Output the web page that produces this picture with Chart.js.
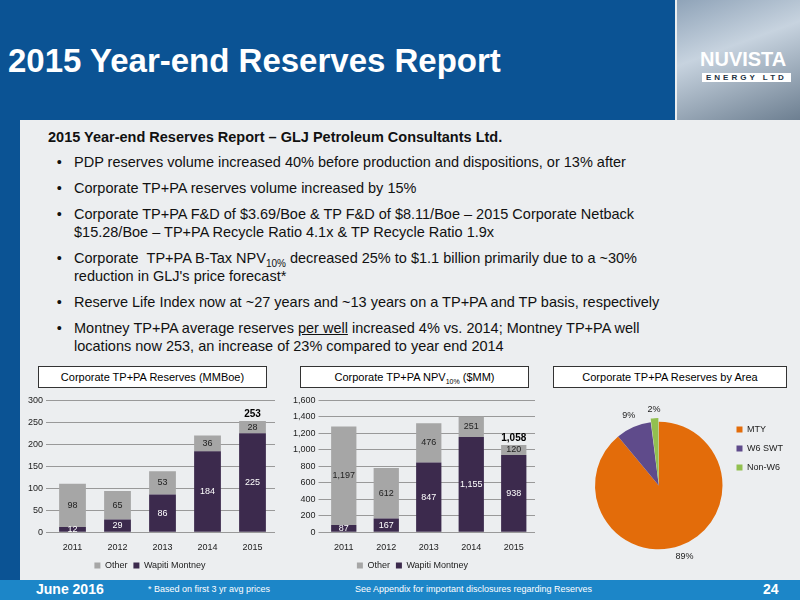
<!DOCTYPE html>
<html><head><meta charset="utf-8">
<script src="https://cdn.jsdelivr.net/npm/chart.js@4"></script>
<style>
body{margin:0;width:800px;height:600px;overflow:hidden;font-family:"Liberation Sans",Arial,sans-serif;background:#eceef0;position:relative}
#hdr{position:absolute;left:0;top:0;width:675px;height:120px;background:#0b5394}
#hdr h1{position:absolute;left:8px;top:42px;margin:0;color:#fff;font-size:33px;font-weight:bold}
#img{position:absolute;left:677px;top:0;width:123px;height:120px;background:linear-gradient(160deg,#8fa3b8,#c7d3df 40%,#6d7f91)}
#logo{position:absolute;left:700px;top:48px;color:#fff;font-size:20px;font-weight:bold}
#logo2{position:absolute;left:702px;top:73px;background:#fff;color:#234;font-size:8px;letter-spacing:3px;padding:0 4px;font-weight:bold}
#side{position:absolute;left:0;top:120px;width:20px;height:460px;background:#0b5394}
#body{position:absolute;left:48px;top:128px;width:650px;color:#111;font-size:14.5px;line-height:18px}
#body b{display:block;margin-bottom:7px}
#body ul{margin:0;padding-left:26px}
#body li{margin-bottom:8px}
.sb{font-size:10px;position:relative;top:4px;line-height:0}
.ct{position:absolute;top:366px;height:20px;border:1px solid #333;background:#fff;font-size:11px;text-align:center;line-height:20px}
canvas{position:absolute}
#foot{position:absolute;left:0;top:580px;width:800px;height:20px;background:#1c86c8;color:#fff}
</style></head><body>
<div id="hdr"><h1>2015 Year-end Reserves Report</h1></div>
<div id="img"></div><div id="logo">NUVISTA</div><div id="logo2">ENERGY LTD</div>
<div id="side"></div>
<div id="body"><b>2015 Year-end Reserves Report – GLJ Petroleum Consultants Ltd.</b>
<ul style="list-style:'•   '">
<li>PDP reserves volume increased 40% before production and dispositions, or 13% after</li>
<li>Corporate TP+PA reserves volume increased by 15%</li>
<li>Corporate TP+PA F&amp;D of $3.69/Boe &amp; TP F&amp;D of $8.11/Boe – 2015 Corporate Netback $15.28/Boe – TP+PA Recycle Ratio 4.1x &amp; TP Recycle Ratio 1.9x</li>
<li>Corporate &nbsp;TP+PA B-Tax NPV<span class="sb">10%</span> decreased 25% to $1.1 billion primarily due to a ~30% reduction in GLJ's price forecast*</li>
<li>Reserve Life Index now at ~27 years and ~13 years on a TP+PA and TP basis, respectively</li>
<li>Montney TP+PA average reserves <u>per well</u> increased 4% vs. 2014; Montney TP+PA well locations now 253, an increase of 23% compared to year end 2014</li>
</ul></div>
<div class="ct" style="left:38px;width:227px">Corporate TP+PA Reserves (MMBoe)</div>
<div class="ct" style="left:300px;width:227px">Corporate TP+PA NPV<span style="font-size:7px;position:relative;top:3px">10%</span> ($MM)</div>
<div class="ct" style="left:553px;width:232px">Corporate TP+PA Reserves by Area</div>
<canvas id="c1" style="left:25px;top:392px" width="250" height="188"></canvas>
<canvas id="c2" style="left:290px;top:392px" width="245" height="188"></canvas>
<canvas id="c3" style="left:553px;top:393px" width="240" height="185"></canvas>
<div id="foot"><span style="position:absolute;left:36px;top:1px;font-size:14px;font-weight:bold">June 2016</span>
<span style="position:absolute;left:148px;top:4px;font-size:9px">* Based on first 3 yr avg prices</span>
<span style="position:absolute;left:355px;top:4px;font-size:9px">See Appendix for important disclosures regarding Reserves</span>
<span style="position:absolute;left:763px;top:1px;font-size:14px;font-weight:bold">24</span></div>
<script>
const years = ["2011", "2012", "2013", "2014", "2015"];
const resOther = [98, 65, 53, 36, 28];
const resWapiti = [12, 29, 86, 184, 225];
const resTotals = [null, null, null, null, 253];
const npvOther = [1197, 612, 476, 251, 120];
const npvWapiti = [87, 167, 847, 1155, 938];
const npvTotals = [null, null, null, null, 1058];
const areas = ["MTY", "W6 SWT", "Non-W6"];
const areaPct = [89, 9, 2];

const fmt = v => v.toLocaleString("en-US");

const barLabels = {
  id: "barLabels",
  afterDatasetsDraw(chart, args, opts) {
    const ctx = chart.ctx;
    ctx.save();
    ctx.font = "9px Liberation Sans";
    ctx.textAlign = "center";
    ctx.textBaseline = "middle";
    chart.data.datasets.forEach((ds, di) => {
      chart.getDatasetMeta(di).data.forEach((bar, i) => {
        const y = (bar.y + bar.base) / 2;
        ctx.fillStyle = di === 1 ? "#222" : "#fff";
        ctx.fillText(fmt(ds.data[i]), bar.x, y);
      });
    });
    const top = chart.getDatasetMeta(1).data;
    ctx.font = "bold 10px Liberation Sans";
    ctx.fillStyle = "#000";
    opts.totals.forEach((t, i) => {
      if (t != null) ctx.fillText(fmt(t), top[i].x, top[i].y - 7);
    });
    ctx.restore();
  }
};

function barChart(id, wap, oth, totals, max, step) {
  new Chart(document.getElementById(id), {
    type: "bar",
    data: {
      labels: years,
      datasets: [
        { label: "Wapiti Montney", data: wap, backgroundColor: "#3c2a4d" },
        { label: "Other", data: oth, backgroundColor: "#a6a6a6" }
      ]
    },
    plugins: [barLabels],
    options: {
      responsive: false,
      animation: false,
      layout: { padding: { top: 4, bottom: 0 } },
      plugins: {
        barLabels: { totals },
        tooltip: { enabled: false },
        legend: {
          position: "bottom",
          reverse: true,
          labels: { boxWidth: 6, boxHeight: 6, font: { size: 9 }, color: "#222", padding: 6 }
        }
      },
      scales: {
        x: { stacked: true, grid: { display: false }, ticks: { font: { size: 9 }, color: "#222", padding: 2 },
             border: { color: "#999" } },
        y: { stacked: true, min: 0, max: max,
             ticks: { stepSize: step, font: { size: 9 }, color: "#222", callback: v => fmt(v) },
             grid: { color: "#999", drawTicks: true, tickLength: 4 }, border: { display: false } }
      },
      datasets: { bar: { categoryPercentage: 0.85, barPercentage: 0.7 } }
    }
  });
}
barChart("c1", resWapiti, resOther, resTotals, 300, 50);
barChart("c2", npvWapiti, npvOther, npvTotals, 1600, 200);

const pieLabels = {
  id: "pieLabels",
  afterDatasetsDraw(chart) {
    const ctx = chart.ctx;
    ctx.save();
    ctx.font = "9px Liberation Sans";
    ctx.fillStyle = "#222";
    ctx.textAlign = "center";
    ctx.textBaseline = "middle";
    chart.getDatasetMeta(0).data.forEach((arc, i) => {
      const a = (arc.startAngle + arc.endAngle) / 2;
      const r = arc.outerRadius + 12;
      ctx.fillText(areaPct[i] + "%", arc.x + Math.cos(a) * r, arc.y + Math.sin(a) * r);
    });
    ctx.restore();
  }
};

new Chart(document.getElementById("c3"), {
  type: "pie",
  data: {
    labels: areas,
    datasets: [{
      data: areaPct,
      backgroundColor: ["#e36c0a", "#5f4b8b", "#92c050"],
      borderWidth: 0,
      offset: [0, 0, 8]
    }]
  },
  plugins: [pieLabels],
  options: {
    responsive: false,
    animation: false,
    layout: { padding: { top: 22, bottom: 22, left: 38, right: 0 } },
    plugins: {
      tooltip: { enabled: false },
      legend: {
        position: "right",
        align: "start",
        labels: { boxWidth: 6, boxHeight: 6, font: { size: 9 }, color: "#222", padding: 10 }
      }
    }
  }
});
</script>
</body></html>
